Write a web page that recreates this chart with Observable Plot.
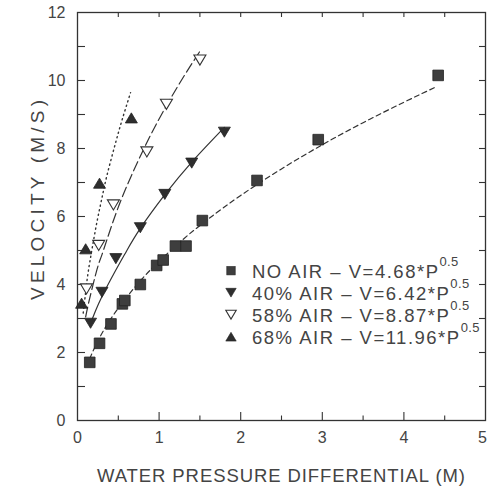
<!DOCTYPE html>
<html>
<head>
<meta charset="utf-8">
<script src="https://cdn.jsdelivr.net/npm/d3@7"></script>
<script src="https://cdn.jsdelivr.net/npm/@observablehq/plot@0.6"></script>
<style>
  html, body { margin: 0; padding: 0; background: #fff; }
  #chart svg { display: block; overflow: visible; }
</style>
</head>
<body>
<div id="chart"></div>
<script>
// ---- data ----
const seriesNames = ["NO AIR", "40% AIR", "58% AIR", "68% AIR"];
const coeffLabels = ["4.68", "6.42", "8.87", "11.96"];

const noAirP = [0.15, 0.27, 0.41, 0.55, 0.58, 0.77, 0.97, 1.05, 1.20, 1.33, 1.53, 2.20, 2.95, 4.42];
const noAirV = [1.71, 2.27, 2.84, 3.43, 3.53, 4.00, 4.56, 4.72, 5.13, 5.13, 5.88, 7.06, 8.26, 10.15];

const air40P = [0.16, 0.30, 0.47, 0.77, 1.07, 1.40, 1.80];
const air40V = [2.86, 3.77, 4.76, 5.67, 6.65, 7.57, 8.48];

const air58P = [0.11, 0.26, 0.44, 0.85, 1.09, 1.50];
const air58V = [3.87, 5.15, 6.34, 7.90, 9.30, 10.60];

const air68P = [0.05, 0.10, 0.27, 0.66];
const air68V = [3.45, 5.05, 6.98, 8.90];

// fitted curves
const fitNoAirP = [0.15, 0.25, 0.40, 0.60, 0.80, 1.00, 1.30, 1.60, 2.00, 2.50, 3.00, 3.50, 4.00, 4.40];
const fitNoAirV = [1.82, 2.34, 2.96, 3.62, 4.19, 4.68, 5.34, 5.92, 6.62, 7.40, 8.11, 8.76, 9.36, 9.82];

const fit40P = [0.15, 0.22, 0.30, 0.46, 0.60, 0.77, 1.07, 1.40, 1.80];
const fit40V = [2.80, 3.22, 3.65, 4.38, 4.98, 5.65, 6.64, 7.60, 8.62];

const fit58P = [0.10, 0.15, 0.24, 0.30, 0.42, 0.60, 0.87, 1.10, 1.30, 1.50];
const fit58V = [3.05, 3.60, 4.45, 4.88, 5.74, 6.87, 8.27, 9.30, 10.11, 10.86];

const fit68P = [0.07, 0.10, 0.13, 0.18, 0.24, 0.30, 0.36, 0.45, 0.54, 0.65];
const fit68V = [3.16, 3.78, 4.35, 5.07, 5.86, 6.55, 7.20, 8.02, 8.79, 9.64];

const xTickLabels = [0, 1, 2, 3, 4];
const xLastLabel = [5];
const yTickLabels = [0, 2, 4, 6, 8, 10, 12];
const xMajorTicks = [1, 2, 3, 4];
const xMinorTicks = [0.5, 1.5, 2.5, 3.5, 4.5];
const xTopTicks = [0.5, 1, 1.5, 2, 2.5, 3, 3.5, 4, 4.5];
const yLeftTicks = [1, 2, 3, 4, 5, 6, 7, 8, 9, 10, 11];
const yRightTicks = [1, 2, 3, 4, 5, 6, 7, 8, 9, 10, 11];

const xTitle = "WATER PRESSURE DIFFERENTIAL (M)";
const yTitle = "VELOCITY (M/S)";

// ---- helpers ----
const zip = (P, V) => P.map((p, i) => ({p, v: V[i]}));
const downTri = {
  draw(ctx, size) {
    const s = Math.sqrt(size), w = 1.13 * s, h = 0.95 * s;
    ctx.moveTo(-w / 2, -h / 2); ctx.lineTo(w / 2, -h / 2); ctx.lineTo(0, h / 2); ctx.closePath();
  }
};
const upTri = {
  draw(ctx, size) {
    const s = Math.sqrt(size), w = 1.13 * s, h = 0.95 * s;
    ctx.moveTo(-w / 2, h / 2); ctx.lineTo(w / 2, h / 2); ctx.lineTo(0, -h / 2); ctx.closePath();
  }
};

const ink = "#333";
const textInk = "#444";
const font = "'Liberation Sans', Arial, sans-serif";
const W = 488, H = 487, mL = 77, mR = 3, mT = 12, mB = 67;
const frameW = W - mL - mR, frameH = H - mT - mB;

const chart = Plot.plot({
  width: W, height: H,
  marginLeft: mL, marginRight: mR, marginTop: mT, marginBottom: mB,
  x: {domain: [0, 5]},
  y: {domain: [0, 12]},
  style: {fontFamily: font, color: ink, background: "#fff"},
  marks: [
    Plot.axisX(xTickLabels, {tickSize: 0, tickPadding: 11, fontSize: 16, label: null, fill: textInk}),
    Plot.axisX(xLastLabel, {tickSize: 0, tickPadding: 11, fontSize: 16, label: null, fill: textInk, dx: -3}),
    Plot.axisY(yTickLabels, {tickSize: 0, tickPadding: 12, fontSize: 16, label: null, fill: textInk}),
    Plot.tickX(xMajorTicks, {x: d => d, insetTop: frameH - 8, stroke: ink, strokeWidth: 1.1}),
    Plot.tickX(xMinorTicks, {x: d => d, insetTop: frameH - 4.5, stroke: ink, strokeWidth: 1.1}),
    Plot.tickX(xTopTicks, {x: d => d, insetBottom: frameH - 5, stroke: ink, strokeWidth: 1.1}),
    Plot.tickY(yLeftTicks, {y: d => d, insetRight: frameW - 8, stroke: ink, strokeWidth: 1.1}),
    Plot.tickY(yRightTicks, {y: d => d, insetLeft: frameW - 6, stroke: ink, strokeWidth: 1.1}),
    Plot.frame({stroke: ink, strokeWidth: 1.3}),
    Plot.line(zip(fitNoAirP, fitNoAirV), {x: "p", y: "v", curve: "natural", stroke: ink, strokeWidth: 1.2, strokeDasharray: "5,3.5"}),
    Plot.line(zip(fit40P, fit40V), {x: "p", y: "v", curve: "natural", stroke: ink, strokeWidth: 1.2}),
    Plot.line(zip(fit58P, fit58V), {x: "p", y: "v", curve: "natural", stroke: ink, strokeWidth: 1.2, strokeDasharray: "10,4"}),
    Plot.line(zip(fit68P, fit68V), {x: "p", y: "v", curve: "natural", stroke: ink, strokeWidth: 1.4, strokeDasharray: "1.2,3.5"}),
    Plot.dot(zip(noAirP, noAirV), {x: "p", y: "v", symbol: "square", r: 6, fill: "#3e3e3e", stroke: "#222", strokeWidth: 0.8}),
    Plot.dot(zip(air40P, air40V), {x: "p", y: "v", symbol: downTri, r: 6, fill: "#2e2e2e", stroke: "#222", strokeWidth: 0.8}),
    Plot.dot(zip(air58P, air58V), {x: "p", y: "v", symbol: downTri, r: 6, fill: "#fff", stroke: ink, strokeWidth: 1.1}),
    Plot.dot(zip(air68P, air68V), {x: "p", y: "v", symbol: upTri, r: 6, fill: "#2e2e2e", stroke: "#222", strokeWidth: 0.8})
  ]
});
document.getElementById("chart").appendChild(chart);

// ---- titles and legend ----
const svg = d3.select(chart);
svg.append("text")
  .attr("x", mL + frameW / 2).attr("y", 481.5)
  .attr("text-anchor", "middle").attr("font-family", font).attr("font-size", 18.5)
  .attr("fill", textInk).attr("textLength", 368).attr("lengthAdjust", "spacing")
  .text(xTitle);
svg.append("text")
  .attr("transform", "translate(44,200) rotate(-90)")
  .attr("text-anchor", "middle").attr("font-family", font).attr("font-size", 19)
  .attr("fill", textInk).attr("textLength", 200).attr("lengthAdjust", "spacing")
  .text(yTitle);

const legendSymbols = ["square", "down", "downOpen", "up"];
const lg = svg.append("g").attr("font-family", font).attr("fill", textInk).attr("text-anchor", "start");
seriesNames.forEach((name, i) => {
  const cy = 270.7 + i * 22, base = 277.5 + i * 22;
  const kind = legendSymbols[i];
  if (kind === "square") {
    lg.append("rect").attr("x", 231 - 4.2).attr("y", cy - 4.2).attr("width", 8.4).attr("height", 8.4)
      .attr("fill", "#3e3e3e").attr("stroke", "#222").attr("stroke-width", 0.6);
  } else {
    const p = d3.path();
    (kind === "up" ? upTri : downTri).draw(p, 85);
    lg.append("path").attr("transform", `translate(231,${cy})`).attr("d", p.toString())
      .attr("fill", kind === "downOpen" ? "#fff" : "#2e2e2e")
      .attr("stroke", kind === "downOpen" ? ink : "#222").attr("stroke-width", kind === "downOpen" ? 1.1 : 0.6);
  }
  const t = lg.append("text").attr("x", 252).attr("y", base).attr("font-size", 18.5).attr("letter-spacing", 1.5);
  t.append("tspan").text(`${name} \u2013 V=${coeffLabels[i]}*P`);
  t.append("tspan").attr("dy", -12).attr("font-size", 13).attr("letter-spacing", 0.4).text("0.5");
});
</script>
</body>
</html>
